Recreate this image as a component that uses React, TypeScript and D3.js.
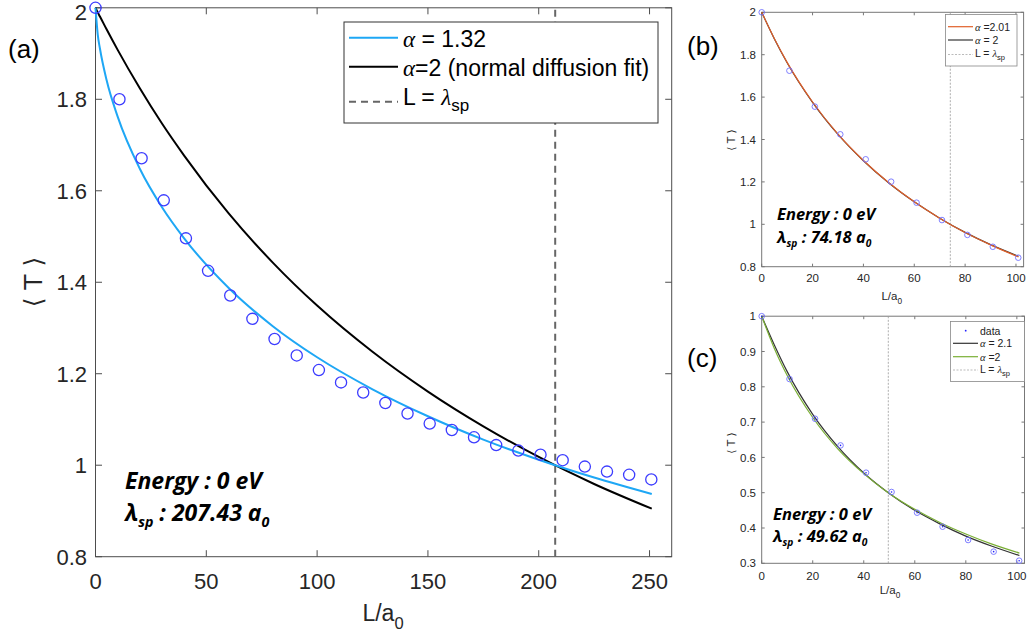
import React from "react";
import * as d3 from "d3";

// ---------- data ----------
const aX = [0, 10.8, 20.8, 30.8, 40.8, 50.8, 60.8, 70.8, 80.8, 90.8, 100.8, 110.8, 120.8, 130.8, 140.8, 150.8, 160.8, 170.8, 180.8, 190.8, 200.8, 210.8, 220.8, 230.8, 240.8, 250.8];
const aData = [2.0, 1.8, 1.671, 1.579, 1.496, 1.425, 1.371, 1.32, 1.276, 1.24, 1.208, 1.181, 1.159, 1.136, 1.113, 1.091, 1.077, 1.061, 1.044, 1.032, 1.023, 1.011, 0.997, 0.986, 0.979, 0.969];
const aFitX = [0, 1, 2, 5, 10, 20, 30, 40, 60, 80, 100, 125, 150, 175, 200, 225, 251];
const aFit132 = [2.0, 1.942, 1.911, 1.842, 1.762, 1.648, 1.564, 1.496, 1.388, 1.304, 1.236, 1.166, 1.107, 1.056, 1.012, 0.973, 0.937];
const aFit2 = [2.0, 1.99, 1.981, 1.953, 1.908, 1.824, 1.747, 1.677, 1.551, 1.443, 1.349, 1.248, 1.161, 1.085, 1.018, 0.959, 0.905];
const aLambda = 207.43;
const aXTicks = [0, 50, 100, 150, 200, 250];
const aYTicks = [0.8, 1, 1.2, 1.4, 1.6, 1.8, 2];

const bX = [0, 10.9, 20.9, 30.9, 40.9, 50.9, 60.9, 70.9, 80.9, 90.9, 100.9];
const bData = [2.0, 1.7245, 1.555, 1.4245, 1.3066, 1.201, 1.102, 1.02, 0.95, 0.894, 0.8425];
const bFitX = [0, 5, 10, 20, 30, 40, 50, 60, 70, 80, 90, 101];
const bFit2 = [2.0, 1.874, 1.762, 1.575, 1.424, 1.3, 1.195, 1.106, 1.029, 0.962, 0.904, 0.849];
const bFit201 = [2.0, 1.875, 1.764, 1.577, 1.425, 1.301, 1.196, 1.106, 1.029, 0.961, 0.903, 0.846];
const bLambda = 74.18;
const bXTicks = [0, 20, 40, 60, 80, 100];
const bYTicks = [0.8, 1, 1.2, 1.4, 1.6, 1.8, 2];

const cX = [0, 10.9, 20.9, 30.9, 40.9, 50.9, 60.9, 70.9, 80.9, 90.9, 100.9];
const cData = [1.0, 0.822, 0.7096, 0.634, 0.5567, 0.502, 0.4434, 0.4037, 0.366, 0.333, 0.3074];
const cFitX = [0, 5, 10, 20, 30, 40, 50, 60, 70, 80, 90, 101];
const cFit21 = [1.0, 0.918, 0.843, 0.722, 0.629, 0.556, 0.498, 0.45, 0.411, 0.377, 0.349, 0.322];
const cFit2 = [1.0, 0.908, 0.832, 0.713, 0.623, 0.554, 0.498, 0.453, 0.415, 0.383, 0.355, 0.329];
const cLambda = 49.62;
const cXTicks = [0, 20, 40, 60, 80, 100];
const cYTicks = [0.3, 0.4, 0.5, 0.6, 0.7, 0.8, 0.9, 1];

// ---------- styles ----------
const SANS = "'Liberation Sans', Arial, Helvetica, sans-serif";
const SERIF = "'Liberation Serif', 'DejaVu Serif', serif";
const ANNO = "'Open Sans', 'Lato', sans-serif";
const AXIS = "#4d4d4d";
const TXT = "#262626";

type Sc = d3.ScaleLinear<number, number>;

function Frame({ x, y, xt, yt, tl, fs, color, xLabY, yLabX }: { x: Sc; y: Sc; xt: number[]; yt: number[]; tl: number; fs: number; color: string; xLabY: number; yLabX: number }) {
  const [x0, x1] = x.range();
  const [y0, y1] = y.range();
  const minBase = fs * 0.93;
  return (
    <g>
      <rect x={x0} y={y1} width={x1 - x0} height={y0 - y1} fill="none" stroke={color} strokeWidth={1} />
      {xt.map((t) => (
        <g key={"x" + t}>
          <line x1={x(t)} x2={x(t)} y1={y0} y2={y0 - tl} stroke={color} />
          <line x1={x(t)} x2={x(t)} y1={y1} y2={y1 + tl} stroke={color} />
          <text x={x(t)} y={xLabY} textAnchor="middle" fontSize={fs} fontFamily={SANS} fill={TXT}>{String(t)}</text>
        </g>
      ))}
      {yt.map((t) => (
        <g key={"y" + t}>
          <line x1={x0} x2={x0 + tl} y1={y(t)} y2={y(t)} stroke={color} />
          <line x1={x1} x2={x1 - tl} y1={y(t)} y2={y(t)} stroke={color} />
          <text x={yLabX} y={Math.max(y(t) + fs * 0.36, minBase)} textAnchor="end" fontSize={fs} fontFamily={SANS} fill={TXT}>{String(t)}</text>
        </g>
      ))}
    </g>
  );
}

function lineOf(x: Sc, y: Sc, xs: number[], ys: number[]) {
  return d3.line<number>().x((d, i) => x(xs[i])).y((d) => y(d)).curve(d3.curveMonotoneX)(ys) || "";
}

function Anno({ x, y, fs, gap, lam }: { x: number; y: number; fs: number; gap: number; lam: string }) {
  return (
    <g fontFamily={ANNO} fontWeight="bold" fontStyle="italic" fontSize={fs} fill="#000">
      <text x={x} y={y}>Energy : 0 eV</text>
      <text x={x} y={y + gap}>
        λ<tspan fontSize={fs * 0.62} dy={fs * 0.25}>sp</tspan>
        <tspan dy={-fs * 0.25}> : {lam} a</tspan>
        <tspan fontSize={fs * 0.62} dy={fs * 0.25}>0</tspan>
      </text>
    </g>
  );
}

function XLabel({ x, y, fs }: { x: number; y: number; fs: number }) {
  return (
    <text x={x} y={y} textAnchor="middle" fontSize={fs} fontFamily={SANS} fill={TXT}>
      L/a<tspan fontSize={fs * 0.72} dy={fs * 0.35}>0</tspan>
    </text>
  );
}

function YLabel({ x, y, fs }: { x: number; y: number; fs: number }) {
  return (
    <text transform={`translate(${x},${y}) rotate(-90)`} textAnchor="middle" fontSize={fs} fontFamily={"'DejaVu Sans', sans-serif"} fill={TXT}>
      ⟨ T ⟩
    </text>
  );
}

export default function App() {
  // panel (a)
  const xA = d3.scaleLinear().domain([0, 260]).range([95.5, 671.7]);
  const yA = d3.scaleLinear().domain([0.8, 2]).range([556.7, 7.8]);
  // panel (b)
  const xB = d3.scaleLinear().domain([0, 103]).range([761.7, 1023.6]);
  const yB = d3.scaleLinear().domain([0.8, 2]).range([266.7, 12.3]);
  // panel (c)
  const xC = d3.scaleLinear().domain([0, 103]).range([761.7, 1024.5]);
  const yC = d3.scaleLinear().domain([0.3, 1]).range([563.3, 316.2]);

  return (
    <svg width={1032} height={638} style={{ position: "absolute", left: 0, top: 0, background: "#fff" }}>
      <rect width={1032} height={638} fill="#fff" />

      {/* ===== (a) ===== */}
      <text x={8} y={58} fontSize={26} fontFamily={SANS} fill="#000">(a)</text>
      <Frame x={xA} y={yA} xt={aXTicks} yt={aYTicks} tl={6.5} fs={22} color={AXIS} xLabY={589} yLabX={87} />
      <line x1={xA(aLambda)} x2={xA(aLambda)} y1={yA(0.8)} y2={yA(2)} stroke="#666" strokeWidth={2} strokeDasharray="7,5" />
      <path d={lineOf(xA, yA, aFitX, aFit2)} fill="none" stroke="#000" strokeWidth={2} />
      <path d={lineOf(xA, yA, aFitX, aFit132)} fill="none" stroke="#1ea7f5" strokeWidth={2} />
      {aX.map((v, i) => (
        <circle key={i} cx={xA(v)} cy={yA(aData[i])} r={5.6} fill="none" stroke="#3c3cff" strokeWidth={1.3} />
      ))}
      <XLabel x={383} y={621} fs={23} />
      <YLabel x={42} y={282} fs={25} />
      <Anno x={125} y={489} fs={23} gap={32} lam="207.43" />
      {/* legend (a) */}
      <g>
        <rect x={344} y={22} width={314} height={101} fill="#fff" stroke="#333" strokeWidth={1} />
        <line x1={349} x2={398} y1={37.7} y2={37.7} stroke="#1ea7f5" strokeWidth={2} />
        <line x1={349} x2={398} y1={66.7} y2={66.7} stroke="#000" strokeWidth={2} />
        <line x1={349} x2={398} y1={101.7} y2={101.7} stroke="#666" strokeWidth={2} strokeDasharray="7,5" />
        <text x={403} y={47} fontSize={23} fontFamily={SANS} fill="#000">
          <tspan fontFamily={SERIF} fontStyle="italic">α</tspan> = 1.32
        </text>
        <text x={403} y={76} fontSize={23} fontFamily={SANS} fill="#000">
          <tspan fontFamily={SERIF} fontStyle="italic">α</tspan>=2 (normal diffusion fit)
        </text>
        <text x={403} y={105} fontSize={23} fontFamily={SANS} fill="#000">
          L = <tspan fontFamily={SERIF} fontStyle="italic">λ</tspan>
          <tspan fontSize={17} dy={6}>sp</tspan>
        </text>
      </g>

      {/* ===== (b) ===== */}
      <text x={687} y={55} fontSize={26} fontFamily={SANS} fill="#000">(b)</text>
      <Frame x={xB} y={yB} xt={bXTicks} yt={bYTicks} tl={3} fs={11.5} color="#777" xLabY={281.5} yLabX={756} />
      <line x1={xB(bLambda)} x2={xB(bLambda)} y1={yB(0.8)} y2={yB(2)} stroke="#999" strokeWidth={0.8} strokeDasharray="2,1.5" />
      <path d={lineOf(xB, yB, bFitX, bFit2)} fill="none" stroke="#333" strokeWidth={1.2} />
      <path d={lineOf(xB, yB, bFitX, bFit201)} fill="none" stroke="#e0602a" strokeWidth={1.2} />
      {bX.map((v, i) => (
        <circle key={i} cx={xB(v)} cy={yB(bData[i])} r={2.8} fill="none" stroke="#7070ff" strokeWidth={0.9} />
      ))}
      <XLabel x={891.7} y={300} fs={11.5} />
      <YLabel x={735} y={140} fs={10.5} />
      <Anno x={777} y={220} fs={16.5} gap={23} lam="74.18" />
      <g>
        <rect x={945.5} y={14.5} width={71.5} height={51.5} fill="#fff" stroke="#888" strokeWidth={0.8} />
        <line x1={948} x2={973} y1={26.7} y2={26.7} stroke="#e0602a" strokeWidth={1.2} />
        <line x1={948} x2={973} y1={40} y2={40} stroke="#333" strokeWidth={1.2} />
        <line x1={948} x2={973} y1={54.5} y2={54.5} stroke="#aaa" strokeWidth={0.8} strokeDasharray="2,1.5" />
        <text x={975} y={30.5} fontSize={10.5} fontFamily={SANS} fill="#222">
          <tspan fontFamily={SERIF} fontStyle="italic">α</tspan> =2.01
        </text>
        <text x={975} y={43.8} fontSize={10.5} fontFamily={SANS} fill="#222">
          <tspan fontFamily={SERIF} fontStyle="italic">α</tspan> = 2
        </text>
        <text x={975} y={57} fontSize={10.5} fontFamily={SANS} fill="#222">
          L = <tspan fontFamily={SERIF} fontStyle="italic">λ</tspan>
          <tspan fontSize={7.5} dy={2.5}>sp</tspan>
        </text>
      </g>

      {/* ===== (c) ===== */}
      <text x={687} y={367} fontSize={26} fontFamily={SANS} fill="#000">(c)</text>
      <Frame x={xC} y={yC} xt={cXTicks} yt={cYTicks} tl={3} fs={11.5} color="#777" xLabY={579.5} yLabX={756} />
      <line x1={xC(cLambda)} x2={xC(cLambda)} y1={yC(0.3)} y2={yC(1)} stroke="#999" strokeWidth={0.8} strokeDasharray="2,1.5" />
      <path d={lineOf(xC, yC, cFitX, cFit21)} fill="none" stroke="#333" strokeWidth={1.2} />
      <path d={lineOf(xC, yC, cFitX, cFit2)} fill="none" stroke="#7aaf35" strokeWidth={1.2} />
      {cX.map((v, i) => (
        <g key={i}>
          <circle cx={xC(v)} cy={yC(cData[i])} r={2.8} fill="none" stroke="#7070ff" strokeWidth={0.9} />
          <circle cx={xC(v)} cy={yC(cData[i])} r={0.8} fill="#2020ff" />
        </g>
      ))}
      <XLabel x={890} y={594} fs={11.5} />
      <YLabel x={735} y={443} fs={10.5} />
      <Anno x={773} y={520} fs={16.5} gap={22} lam="49.62" />
      <g>
        <rect x={950.5} y={321.5} width={74} height={60} fill="#fff" stroke="#888" strokeWidth={0.8} />
        <circle cx={965.7} cy={330.7} r={0.9} fill="#2020ff" />
        <line x1={953} x2={978} y1={343.3} y2={343.3} stroke="#333" strokeWidth={1.2} />
        <line x1={953} x2={978} y1={356.7} y2={356.7} stroke="#7aaf35" strokeWidth={1.2} />
        <line x1={953} x2={978} y1={370} y2={370} stroke="#aaa" strokeWidth={0.8} strokeDasharray="2,1.5" />
        <text x={980} y={334.5} fontSize={10.5} fontFamily={SANS} fill="#222">data</text>
        <text x={980} y={347} fontSize={10.5} fontFamily={SANS} fill="#222">
          <tspan fontFamily={SERIF} fontStyle="italic">α</tspan> = 2.1
        </text>
        <text x={980} y={360.5} fontSize={10.5} fontFamily={SANS} fill="#222">
          <tspan fontFamily={SERIF} fontStyle="italic">α</tspan> =2
        </text>
        <text x={980} y={373} fontSize={10.5} fontFamily={SANS} fill="#222">
          L = <tspan fontFamily={SERIF} fontStyle="italic">λ</tspan>
          <tspan fontSize={7.5} dy={2.5}>sp</tspan>
        </text>
      </g>
    </svg>
  );
}
